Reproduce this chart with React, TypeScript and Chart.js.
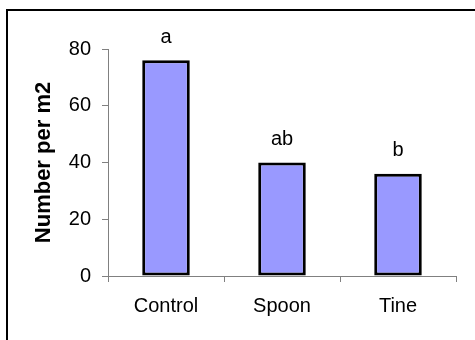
import React, { useEffect, useRef } from "react";
import { Chart, registerables } from "chart.js";

Chart.register(...registerables);

const categories = ["Control", "Spoon", "Tine"];
const values = [76, 40, 36];
const letters = ["a", "ab", "b"];
const yTicks = [0, 20, 40, 60, 80];
const yTitle = "Number per m2";

const FONT = "'Liberation Sans', Arial, sans-serif";

export default function App() {
  const ref = useRef<HTMLCanvasElement | null>(null);

  useEffect(() => {
    if (!ref.current) return;
    const framePlugin = {
      id: "frame",
      beforeDraw(chart: any) {
        const ctx = chart.ctx;
        ctx.save();
        ctx.fillStyle = "#fff";
        ctx.fillRect(0, 0, chart.width, chart.height);
        ctx.strokeStyle = "#000";
        ctx.lineWidth = 2;
        ctx.beginPath();
        ctx.moveTo(7, chart.height + 2);
        ctx.lineTo(7, 10);
        ctx.lineTo(chart.width + 2, 10);
        ctx.stroke();
        ctx.restore();
      },
    };
    const lettersPlugin = {
      id: "letters",
      afterDatasetsDraw(chart: any) {
        const ctx = chart.ctx;
        const meta = chart.getDatasetMeta(0);
        ctx.save();
        ctx.fillStyle = "#000";
        ctx.font = `20px ${FONT}`;
        ctx.textAlign = "center";
        ctx.textBaseline = "alphabetic";
        meta.data.forEach((bar: any, i: number) => {
          ctx.fillText(letters[i], bar.x, bar.y - 17.5);
        });
        ctx.restore();
      },
    };
    const chart = new Chart(ref.current, {
      type: "bar",
      data: {
        labels: categories,
        datasets: [
          {
            data: values,
            backgroundColor: "#9999FF",
            borderColor: "#000",
            borderWidth: 3,
            borderSkipped: false,
            categoryPercentage: 1,
            barPercentage: 0.41,
          },
        ],
      },
      options: {
        responsive: false,
        animation: false,
        layout: { padding: { left: 0, top: 49, right: 19, bottom: 0 } },
        plugins: { legend: { display: false }, tooltip: { enabled: false } },
        scales: {
          x: {
            offset: true,
            grid: {
              display: true,
              drawOnChartArea: false,
              offset: true,
              tickLength: 6,
              color: "#808080",
            },
            border: { color: "#808080", width: 1 },
            ticks: { color: "#000", font: { family: FONT, size: 20 }, padding: 12 },
            afterFit(scale: any) {
              scale.height = 64;
            },
          },
          y: {
            min: 0,
            max: 80,
            afterBuildTicks(scale: any) {
              scale.ticks = yTicks.map((v) => ({ value: v }));
            },
            grid: {
              display: true,
              drawOnChartArea: false,
              tickLength: 6,
              color: "#808080",
            },
            border: { color: "#808080", width: 1 },
            ticks: { color: "#000", font: { family: FONT, size: 20 }, padding: 11 },
            title: {
              display: true,
              text: yTitle,
              color: "#000",
              font: { family: FONT, size: 22, weight: "bold" },
              padding: { top: 31, bottom: 0 },
            },
            afterFit(scale: any) {
              scale.width = 108;
            },
          },
        },
      },
      plugins: [framePlugin, lettersPlugin],
    });
    return () => chart.destroy();
  }, []);

  return (
    <div style={{ position: "fixed", left: 0, top: 0, width: 475, height: 340, background: "#fff" }}>
      <canvas ref={ref} width={475} height={340} style={{ display: "block" }} />
    </div>
  );
}
